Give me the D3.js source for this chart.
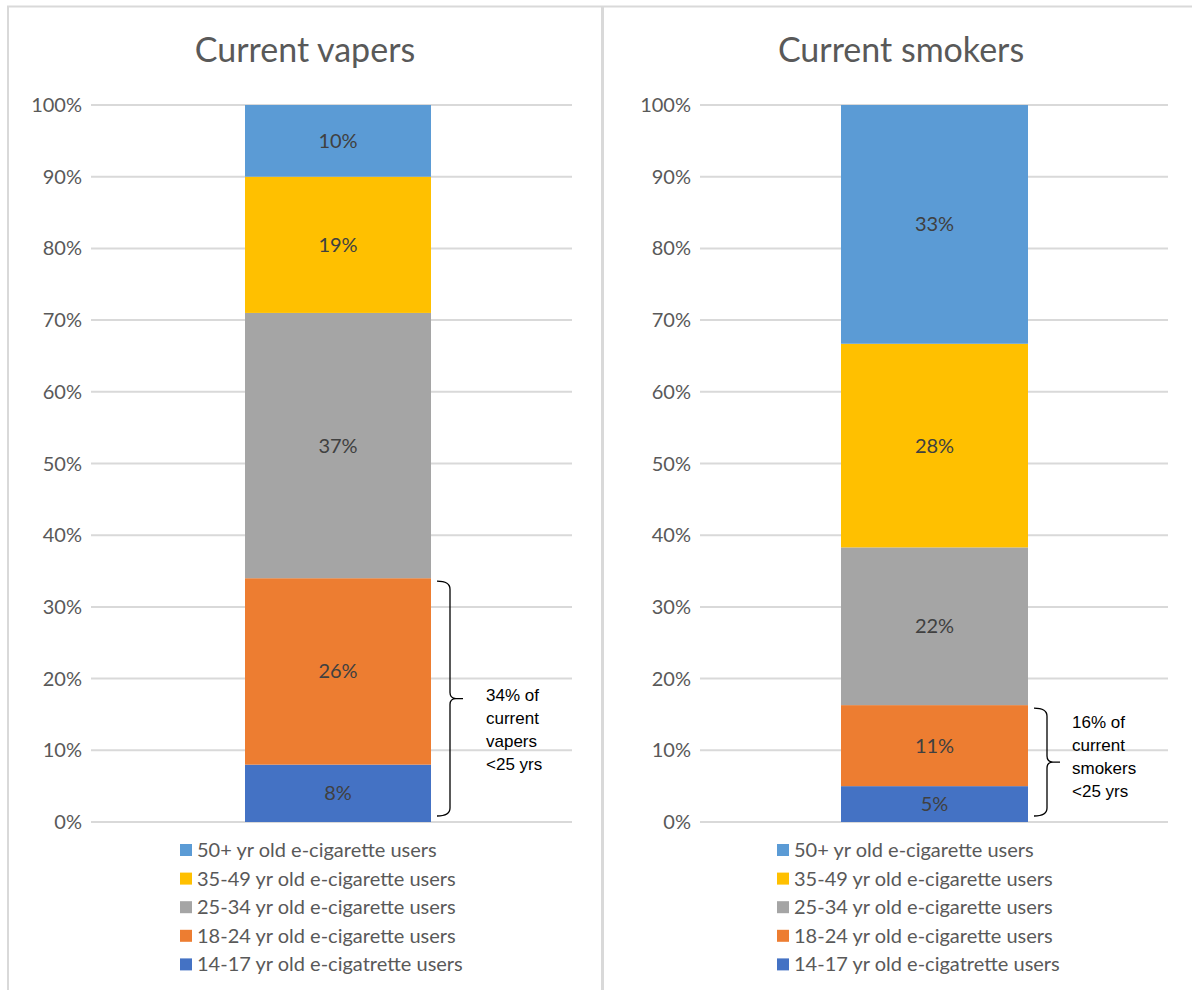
<!DOCTYPE html>
<html>
<head>
<meta charset="utf-8">
<script src="https://cdn.jsdelivr.net/npm/d3@7"></script>
<style>
  body { margin: 0; background: #fff; }
  svg text { font-family: Lato, "Open Sans", sans-serif; }
</style>
</head>
<body>
<svg id="chart" width="1192" height="990"></svg>
<script>
(function() {

// data
const ageGroups = ["14-17 yr old e-cigatrette users", "18-24 yr old e-cigarette users",
  "25-34 yr old e-cigarette users", "35-49 yr old e-cigarette users", "50+ yr old e-cigarette users"];
const vaperValues = [8, 26, 37, 19, 10];
const smokerValues = [5, 11.3, 22, 28.4, 33.3];
const panelTitles = ["Current vapers", "Current smokers"];
const bracketNotes = [
  ["34% of", "current", "vapers", "<25 yrs"],
  ["16% of", "current", "smokers", "<25 yrs"]
];
const yTicks = [0, 10, 20, 30, 40, 50, 60, 70, 80, 90, 100];

const colors = ["#4472C4", "#ED7D31", "#A5A5A5", "#FFC000", "#5B9BD5"];

const svg = d3.select("#chart");

// frame lines
svg.append("line").attr("x1", 7).attr("x2", 1192).attr("y1", 6.5).attr("y2", 6.5)
  .attr("stroke", "#d9d9d9").attr("stroke-width", 2);
svg.append("line").attr("x1", 8).attr("x2", 8).attr("y1", 6).attr("y2", 990)
  .attr("stroke", "#d9d9d9").attr("stroke-width", 2);
svg.append("line").attr("x1", 602.5).attr("x2", 602.5).attr("y1", 6).attr("y2", 990)
  .attr("stroke", "#d9d9d9").attr("stroke-width", 3);

const panels = [
  { values: vaperValues, left: 91, right: 572, barX: 245, barW: 186, titleX: 305, legX: 180,
    noteX: 486, noteDy: -4 },
  { values: smokerValues, left: 700, right: 1168, barX: 841, barW: 187, titleX: 901, legX: 777,
    noteX: 1072, noteDy: -40 }
];

const y = d3.scaleLinear().domain([0, 100]).range([822, 105]);

panels.forEach((p, pi) => {
  const g = svg.append("g");

  g.append("text")
    .attr("x", p.titleX).attr("y", 62)
    .attr("text-anchor", "middle")
    .style("font-size", "34px").style("fill", "#595959")
    .text(panelTitles[pi]);

  // gridlines + tick labels
  g.selectAll(".grid")
    .data(yTicks)
    .enter().append("line")
    .attr("x1", p.left).attr("x2", p.right)
    .attr("y1", d => y(d)).attr("y2", d => y(d))
    .attr("stroke", "#d9d9d9").attr("stroke-width", 2);

  g.selectAll(".tick")
    .data(yTicks)
    .enter().append("text")
    .attr("x", p.left - 9)
    .attr("y", d => y(d))
    .attr("dy", "0.35em")
    .attr("text-anchor", "end")
    .style("font-size", "20px").style("fill", "#595959")
    .text(d => d + "%");

  // stacked segments
  const cum = d3.cumsum(p.values);
  const segs = p.values.map((v, i) => ({ v: v, y0: cum[i] - v, y1: cum[i], i: i }));

  g.selectAll(".seg")
    .data(segs)
    .enter().append("rect")
    .attr("x", p.barX).attr("width", p.barW)
    .attr("y", d => y(d.y1))
    .attr("height", d => y(d.y0) - y(d.y1))
    .attr("fill", d => colors[d.i]);

  g.selectAll(".lbl")
    .data(segs)
    .enter().append("text")
    .attr("x", p.barX + p.barW / 2)
    .attr("y", d => y((d.y0 + d.y1) / 2))
    .attr("dy", "0.35em")
    .attr("text-anchor", "middle")
    .style("font-size", "20px").style("fill", "#404040")
    .text(d => Math.round(d.v) + "%");

  // bracket for <25 yrs
  const top = y(cum[1]) + 3, bot = y(0) - 6;
  const mid = (top + bot) / 2;
  const bx = p.barX + p.barW + 6;
  const path = `M${bx},${top} Q${bx + 13},${top} ${bx + 13},${top + 8} L${bx + 13},${mid - 6}
    Q${bx + 13},${mid} ${bx + 19},${mid} L${bx + 26},${mid} M${bx + 19},${mid}
    Q${bx + 13},${mid} ${bx + 13},${mid + 6} L${bx + 13},${bot - 8}
    Q${bx + 13},${bot} ${bx},${bot}`;
  g.append("path").attr("d", path).attr("fill", "none")
    .attr("stroke", "#000").attr("stroke-width", 1.3);

  g.selectAll(".note")
    .data(bracketNotes[pi])
    .enter().append("text")
    .attr("x", p.noteX)
    .attr("y", (d, i) => mid + p.noteDy + i * 23)
    .attr("dy", "0.35em")
    .style("font-family", "'Liberation Sans', Arial, sans-serif")
    .style("font-size", "17px").style("fill", "#000")
    .text(d => d);

  // legend (top item is 50+)
  const legendItems = ageGroups.map((name, i) => ({ name: name, i: i })).reverse();
  const leg = g.selectAll(".leg")
    .data(legendItems)
    .enter().append("g")
    .attr("transform", (d, k) => `translate(${p.legX},${850 + k * 28.6})`);
  leg.append("rect")
    .attr("x", 0).attr("y", -6).attr("width", 12).attr("height", 12)
    .attr("fill", d => colors[d.i]);
  leg.append("text")
    .attr("x", 17).attr("dy", "0.35em")
    .style("font-size", "20px").style("fill", "#595959")
    .text(d => d.name);
});

})();
</script>
</body>
</html>
